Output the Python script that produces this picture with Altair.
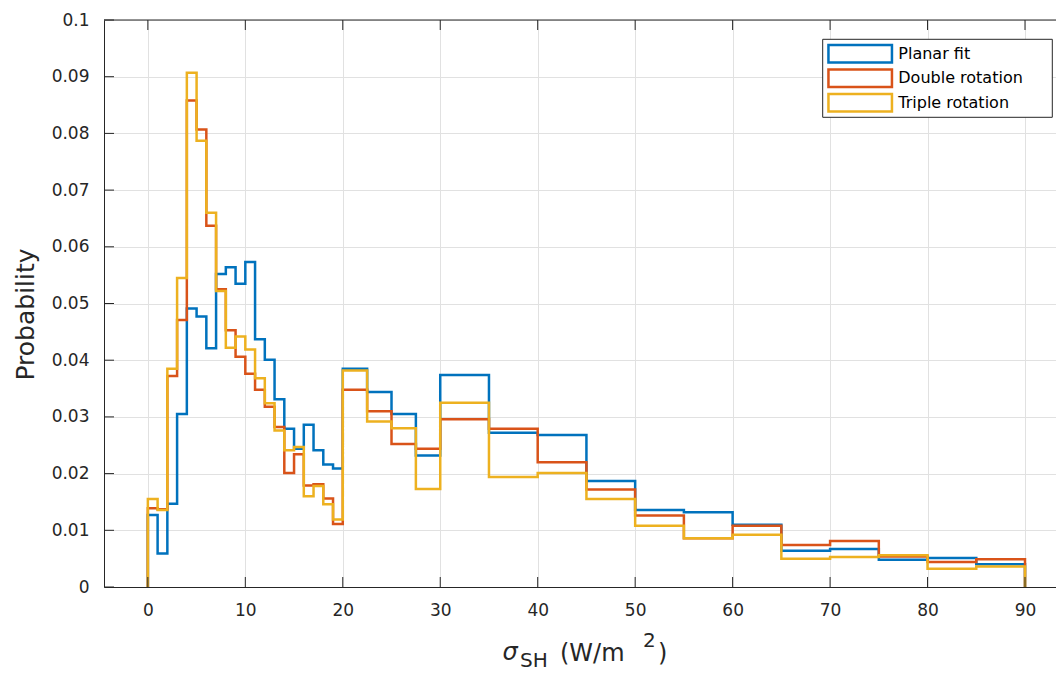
import altair as alt
import pandas as pd

# ---- data ----
bin_edges = [0, 1, 2, 3, 4, 5, 6, 7, 8, 9, 10, 11, 12, 13, 14, 15, 16, 17, 18, 19, 20,
             22.5, 25, 27.5, 30, 35, 40, 45, 50, 55, 60, 65, 70, 75, 80, 85, 90]

planar_fit = [0.0127, 0.0059, 0.0147, 0.0305, 0.0491, 0.0477, 0.0421, 0.0552, 0.0564, 0.0535,
              0.0573, 0.0437, 0.0401, 0.0331, 0.0279, 0.0244, 0.0286, 0.0241, 0.0216, 0.0209,
              0.0385, 0.0344, 0.0305, 0.0232, 0.0374, 0.0272, 0.0268, 0.0187, 0.0136, 0.0132,
              0.0110, 0.0064, 0.0067, 0.0048, 0.0051, 0.0040]

double_rotation = [0.0139, 0.0137, 0.0372, 0.0471, 0.0858, 0.0807, 0.0637, 0.0525, 0.0453, 0.0406,
                   0.0376, 0.0348, 0.0318, 0.0282, 0.0201, 0.0234, 0.0179, 0.0181, 0.0156, 0.0111,
                   0.0348, 0.0310, 0.0252, 0.0244, 0.0296, 0.0279, 0.0220, 0.0172, 0.0126, 0.0086,
                   0.0108, 0.0074, 0.0081, 0.0054, 0.0044, 0.0049]

triple_rotation = [0.0155, 0.0136, 0.0385, 0.0545, 0.0907, 0.0787, 0.0660, 0.0522, 0.0422, 0.0442,
                   0.0419, 0.0368, 0.0324, 0.0276, 0.0241, 0.0247, 0.0160, 0.0178, 0.0146, 0.0119,
                   0.0382, 0.0292, 0.0280, 0.0173, 0.0325, 0.0194, 0.0201, 0.0155, 0.0108, 0.0086,
                   0.0092, 0.0050, 0.0053, 0.0056, 0.0032, 0.0036]

series_names = ["Planar fit", "Double rotation", "Triple rotation"]
series_colors = ["#0072BD", "#D95319", "#EDB120"]

x_ticks = [0, 10, 20, 30, 40, 50, 60, 70, 80, 90]
y_ticks = [0, 0.01, 0.02, 0.03, 0.04, 0.05, 0.06, 0.07, 0.08, 0.09, 0.1]

x_title_parts = ["σ", "SH", "(W/m", "2", ")"]
y_title = "Probability"

# ---- build stairs table (MATLAB 'stairs' histogram outline) ----
rows = []
for name, vals in zip(series_names, [planar_fit, double_rotation, triple_rotation]):
    rows.append({"series": name, "x": bin_edges[0], "p": 0.0, "idx": 0})
    for i, v in enumerate(vals):
        rows.append({"series": name, "x": bin_edges[i], "p": v, "idx": i + 1})
    rows.append({"series": name, "x": bin_edges[-1], "p": 0.0, "idx": len(vals) + 1})
df = pd.DataFrame(rows)

W, H = 952, 567
AX = "#262626"
FONT = "DejaVu Sans"

x_scale = alt.Scale(domain=[-4.5, 93.18], nice=False, zero=False)
y_scale = alt.Scale(domain=[0, 0.1], nice=False, zero=False)

lines = alt.Chart(df).mark_line(interpolate="step-after", strokeWidth=2.5).encode(
    x=alt.X("x:Q", scale=x_scale,
            axis=alt.Axis(values=x_ticks, title=None, grid=True, format="d")),
    y=alt.Y("p:Q", scale=y_scale,
            axis=alt.Axis(values=y_ticks, format="~g", title=y_title, grid=True,
                          titleX=-66, titleY=294, titleFontSize=25)),
    color=alt.Color("series:N",
                    scale=alt.Scale(domain=series_names, range=series_colors),
                    legend=None),
    order=alt.Order("idx:Q"),
)

ytick_df = pd.DataFrame({"p": y_ticks})
xtick_df = pd.DataFrame({"x": x_ticks})

left_ticks = alt.Chart(ytick_df).mark_rule(color=AX, strokeWidth=1).encode(
    y=alt.Y("p:Q", scale=y_scale), x=alt.value(0), x2=alt.value(10))
bottom_ticks = alt.Chart(xtick_df).mark_rule(color=AX, strokeWidth=1).encode(
    x=alt.X("x:Q", scale=x_scale), y=alt.value(H), y2=alt.value(H - 10))
top_ticks = alt.Chart(xtick_df).mark_rule(color=AX, strokeWidth=1).encode(
    x=alt.X("x:Q", scale=x_scale), y=alt.value(0), y2=alt.value(10))
top_border = alt.Chart(pd.DataFrame({"b": [0]})).mark_rule(color=AX, strokeWidth=1).encode(
    x=alt.value(0), x2=alt.value(W), y=alt.value(0))

# ---- MATLAB-style legend: white framed box, rectangle-outline swatches ----
LX, LY, LW, LH = 718.7, 19.3, 229.6, 78.0
ROW = 24.5
legend_layers = [
    alt.Chart(pd.DataFrame({"b": [0]})).mark_rect(
        fill="white", stroke=AX, strokeWidth=1).encode(
        x=alt.value(LX), x2=alt.value(LX + LW), y=alt.value(LY), y2=alt.value(LY + LH))
]
for i, (name, col) in enumerate(zip(series_names, series_colors)):
    entry = pd.DataFrame({"series": [name]})
    top = LY + 5.75 + i * ROW
    legend_layers.append(
        alt.Chart(entry).mark_rect(fill="white", stroke=col, strokeWidth=2.5).encode(
            x=alt.value(LX + 5.75), x2=alt.value(LX + 5.75 + 63.5),
            y=alt.value(top), y2=alt.value(top + 17.5)))
    legend_layers.append(
        alt.Chart(entry).mark_text(font=FONT, fontSize=16, color="#000000",
                                   align="left", baseline="middle").encode(
            text="series:N", x=alt.value(LX + 75.6), y=alt.value(top + 8.75)))


def piece(text, px, py, size, italic=False):
    return alt.Chart(pd.DataFrame({"label": [text]})).mark_text(
        font=FONT, fontSize=size, color=AX, align="left", baseline="alphabetic",
        fontStyle="italic" if italic else "normal",
    ).encode(text="label:N", x=alt.value(px), y=alt.value(py))


title_layers = [
    piece(x_title_parts[0], 398.5, 640, 24, italic=True),
    piece(x_title_parts[1], 416, 647, 20),
    piece(x_title_parts[2], 456, 641, 24),
    piece(x_title_parts[3], 539, 627, 20),
    piece(x_title_parts[4], 554, 641, 24),
]

chart = alt.layer(lines, left_ticks, bottom_ticks, top_ticks, top_border,
                  *legend_layers, *title_layers).properties(
    width=W, height=H,
    autosize=alt.AutoSizeParams(type="none"),
    padding={"left": 96, "top": 12, "right": 0, "bottom": 86},
    background="white",
).configure_axis(
    labelFont=FONT, labelFontSize=17, labelColor=AX,
    titleFont=FONT, titleFontSize=23, titleFontWeight="normal", titleColor=AX,
    domainColor=AX, domainWidth=1, gridColor="#e1e1e1", gridWidth=1,
    ticks=False, labelPadding=15,
).configure_view(stroke=None)

chart.save("out.html", embed_options={"renderer": "svg", "actions": False})
